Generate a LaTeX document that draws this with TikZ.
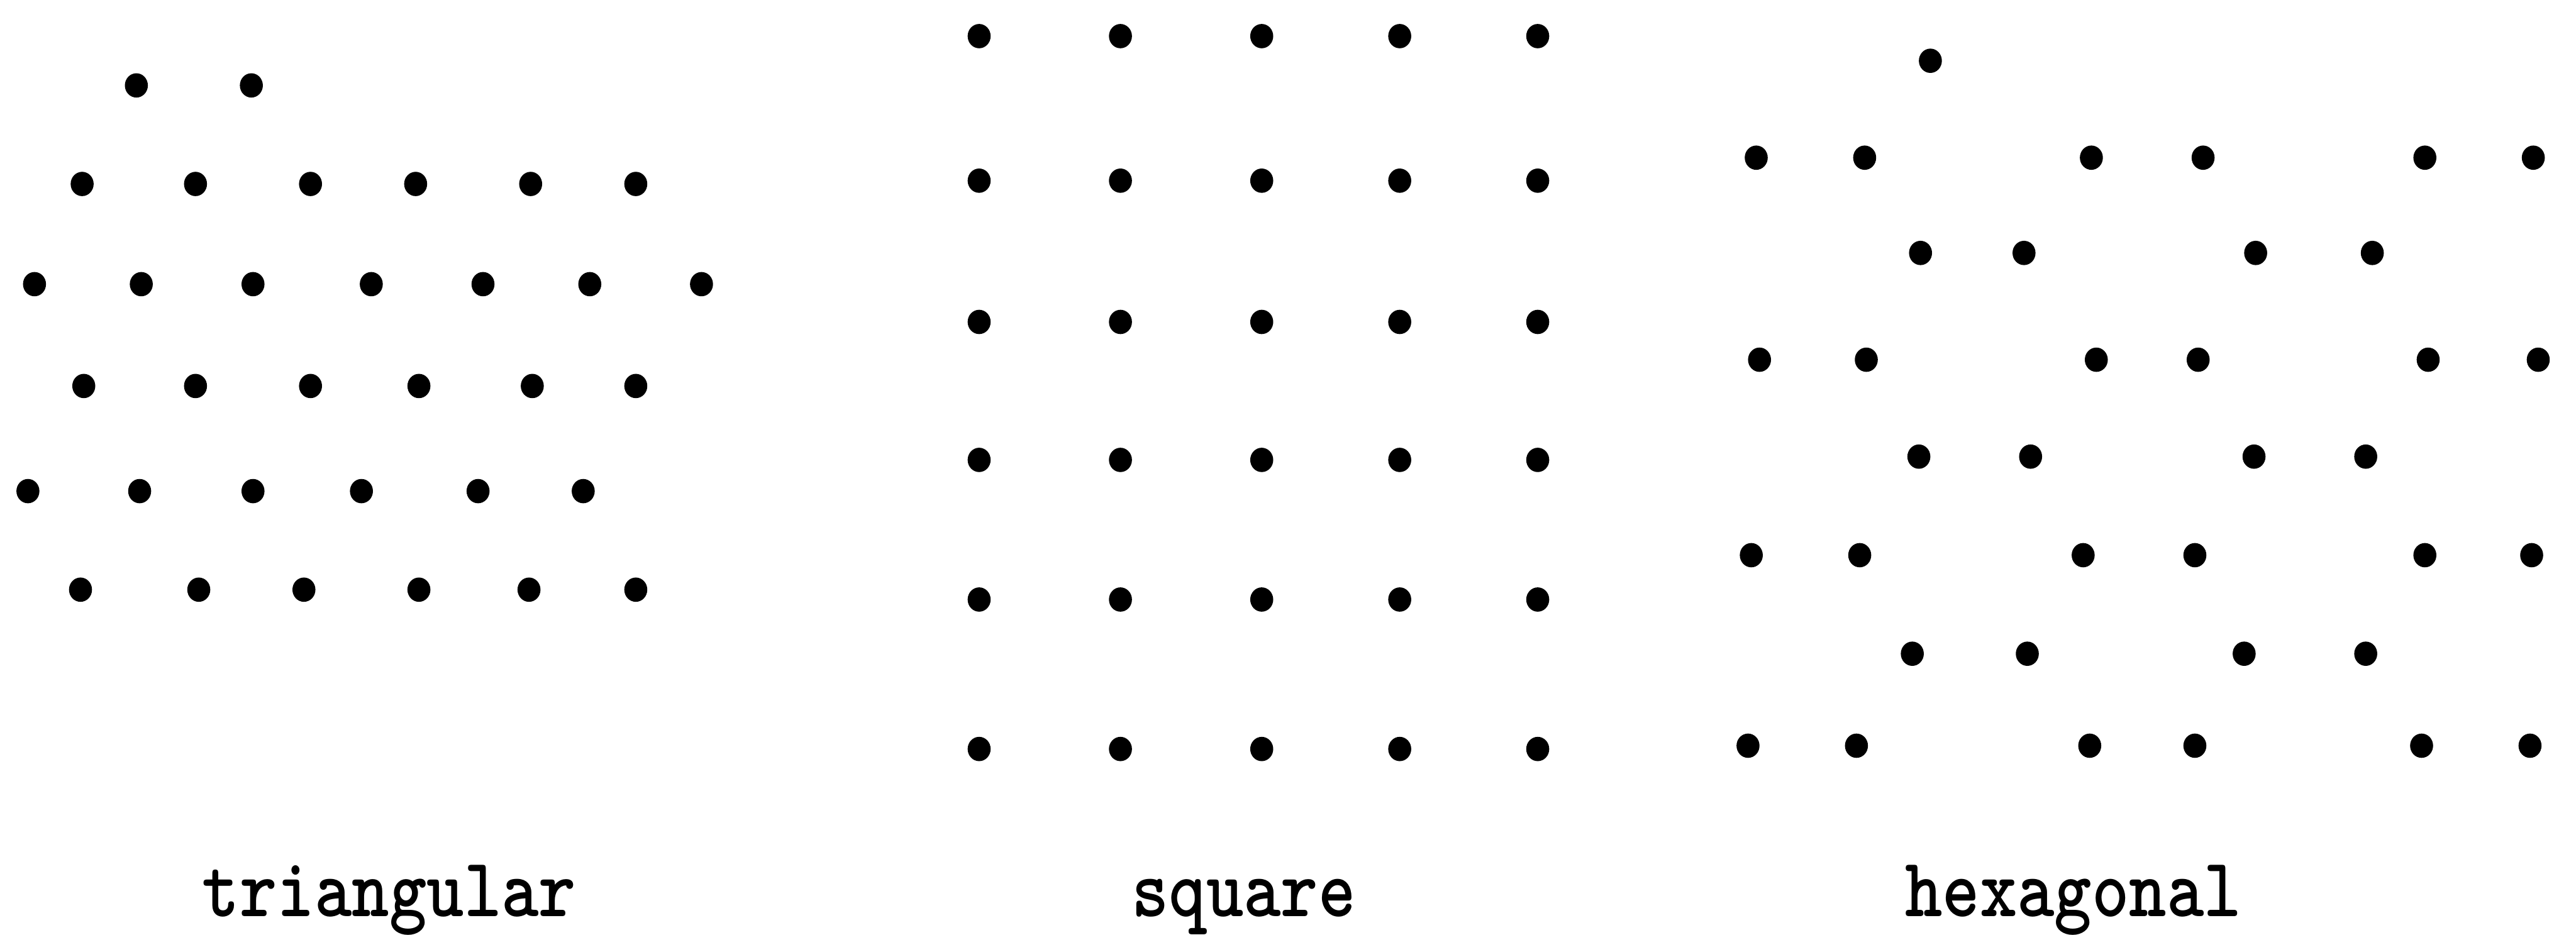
\documentclass[tikz,border=0pt]{standalone}
\usepackage{tikz}
\usetikzlibrary{positioning}
\newcommand{\latdot}[1]{%
  \fill[black] #1 ellipse (7 and 7.4);
}
\newcommand{\tallword}[1]{\scalebox{1}[1.18]{#1}}
\tikzset{lattlabel/.style={anchor=base, inner sep=0pt, font=\ttfamily\bfseries\fontsize{37}{40}\selectfont}}

\begin{document}
\begin{tikzpicture}[x=0.03cm, y=-0.03cm]
        \useasboundingbox (0,0) rectangle (1568,569);
        \foreach \x in {83,153} {\latdot{(\x,52)}}
        \foreach \x in {50,119,189,253,323,387} {\latdot{(\x,112)}}
        \foreach \x in {21,86,154,226,294,359,427} {\latdot{(\x,173)}}
        \foreach \x in {51,119,189,255,324,387} {\latdot{(\x,235)}}
        \foreach \x in {17,85,154,220,291,355} {\latdot{(\x,299)}}
        \foreach \x in {49,121,185,255,322,387} {\latdot{(\x,359)}}
        \node[lattlabel] (tri) at (237,558) {\tallword{triangular}};
        \foreach \y in {22,110,196,280,365,456}
          \foreach \x in {596,682,768,852,936} {\latdot{(\x,\y)}}
        \node[lattlabel] (sq) at (757,558) {\tallword{square}};
        \latdot{(1175,37)}
        \foreach \x in {1069,1135,1273,1341,1476,1542} {\latdot{(\x,96)}}
        \foreach \x in {1169,1232,1373,1444} {\latdot{(\x,154)}}
        \foreach \x in {1071,1136,1276,1338,1478,1545} {\latdot{(\x,219)}}
        \foreach \x in {1168,1236,1372,1440} {\latdot{(\x,278)}}
        \foreach \x in {1066,1132,1268,1336,1476,1541} {\latdot{(\x,338)}}
        \foreach \x in {1164,1234,1366,1440} {\latdot{(\x,398)}}
        \foreach \x in {1064,1130,1272,1336,1474,1540} {\latdot{(\x,454)}}
        \node[lattlabel] (hex) at (1262,558) {\tallword{hexagonal}};
      \end{tikzpicture}
\end{document}
